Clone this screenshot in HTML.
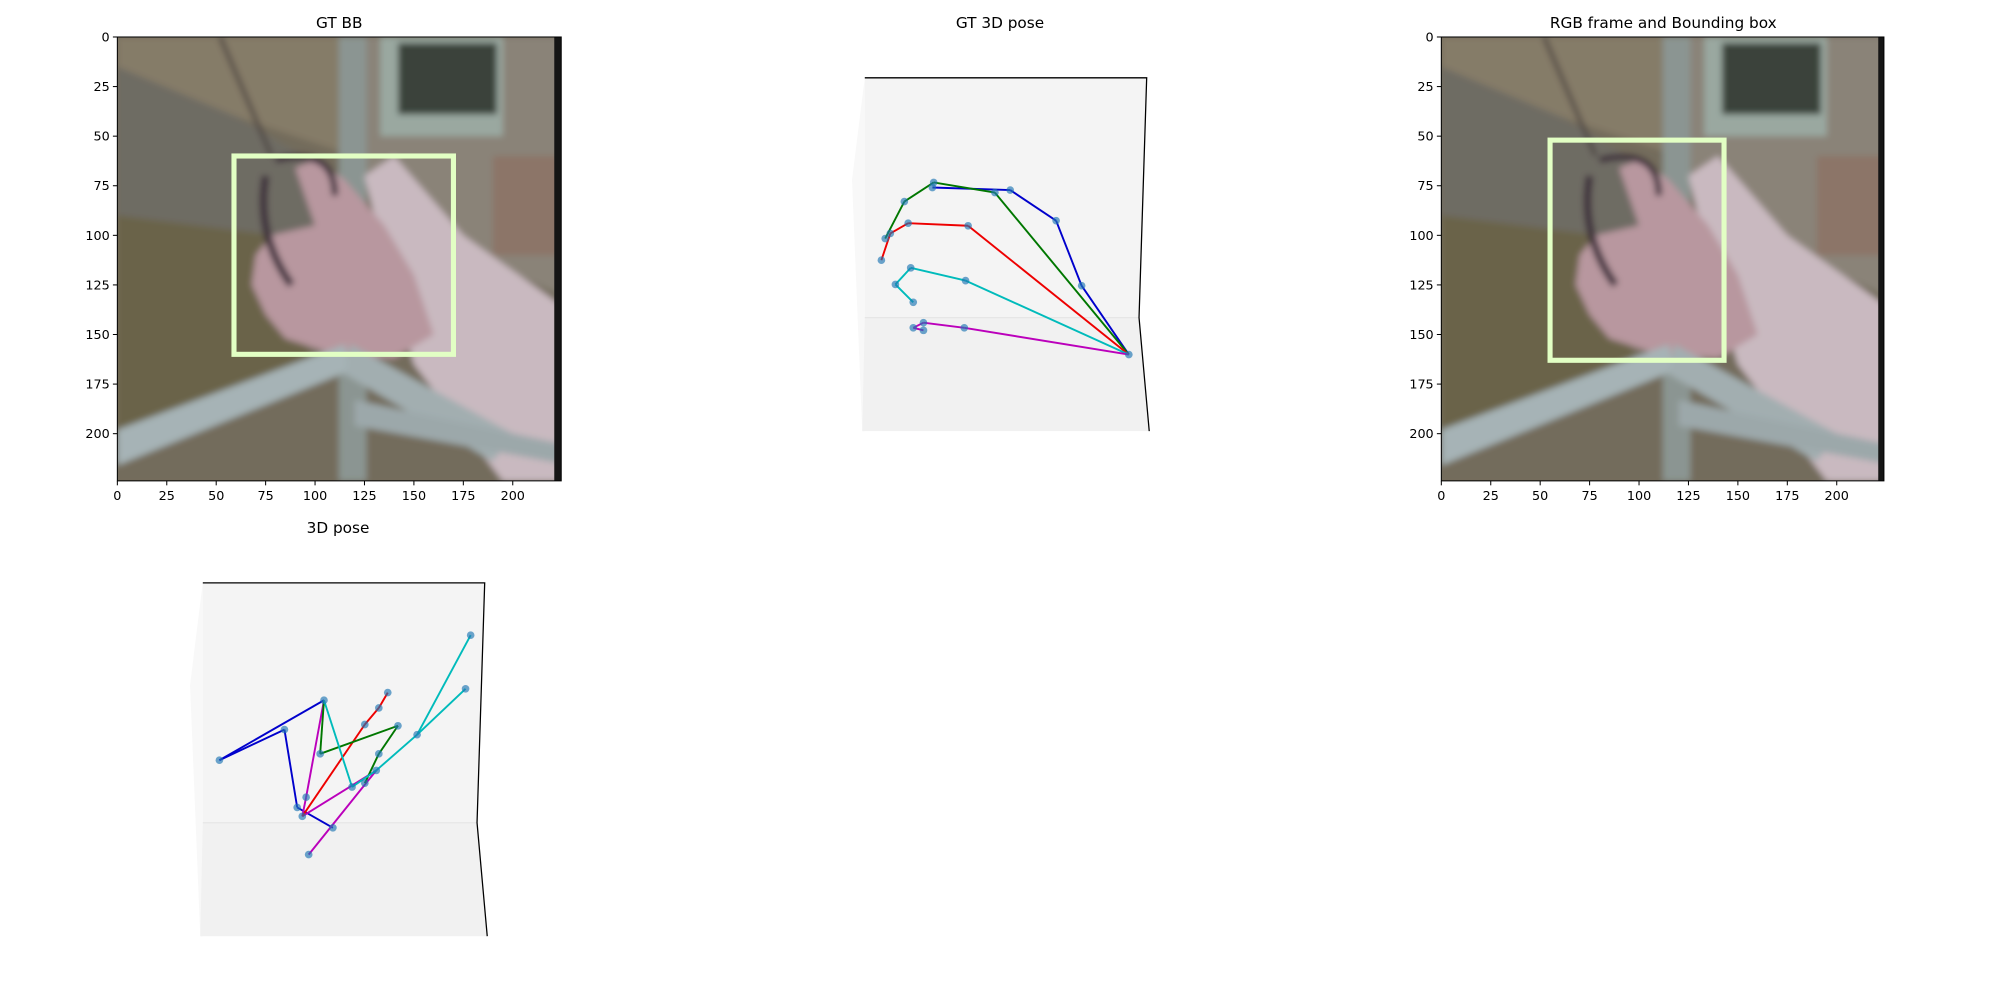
<!DOCTYPE html>
<html><head><meta charset="utf-8"><style>
html,body{margin:0;padding:0;background:#fff;}
svg{display:block;font-family:"DejaVu Sans","Liberation Sans",sans-serif;}
</style></head><body>
<svg id="fig" width="2000" height="1000" viewBox="0 0 1568 784" xmlns="http://www.w3.org/2000/svg">
<rect width="1568" height="784" fill="#fff"/>
<defs>
<clipPath id="c1"><rect x="92" y="29" width="348" height="348"/></clipPath>
<clipPath id="c3"><rect x="1130" y="29" width="347" height="348"/></clipPath>
<filter id="blur" x="-5%" y="-5%" width="110%" height="110%"><feGaussianBlur stdDeviation="2.5"/></filter>
</defs>
<g id="p1"></g>
<g id="p2"></g>
<g id="p3"></g>
<g id="p4"></g>
</svg>
<script>
// ---- data ----
const imageTicks = [0, 25, 50, 75, 100, 125, 150, 175, 200];
const gtBox = [59, 60, 170, 160];      // x0,y0,x1,y1 in image pixels
const predBox = [55, 52, 143, 163];
const gtWrist = [207, 217];
const gtBlue = [[170,163],[150,112],[114,88],[53,86]];
const gtGreen = [[102,90],[54,82],[31,97],[16,126]];
const gtRed = [[81,116],[34,114],[20,122],[13,143]];
const gtCyan = [[79,159],[36,149],[24,162],[38,176]];
const gtMagenta = [[78,196],[46,192],[38,196],[46,198]];
const predJoints = {A:[13,139],B:[64,115],C:[95,92],D:[74,176],E:[78,183],F:[102,192],G:[83,213],H:[81,168],I:[92,134],J:[153,112],K:[127,111],L:[138,98],M:[145,86],N:[117,160],O:[127,157],P:[136,147],Q:[138,134],R:[168,119],S:[206,83],T:[210,41]};
const predBlue = [["A","C"],["A","B"],["B","D"],["D","F"]];
const predMagenta = [["C","H"],["H","E"],["E","P"],["P","G"]];
const predRed = [["E","K"],["K","L"],["L","M"]];
const predGreen = [["C","I"],["I","J"],["J","Q"],["Q","O"]];
const predCyan = [["C","N"],["N","P"],["P","R"],["R","S"],["R","T"]];

const NS="http://www.w3.org/2000/svg";
function mk(parent, tag, attrs){const e=document.createElementNS(NS,tag);for(const k in attrs)e.setAttribute(k,attrs[k]);parent.appendChild(e);return e;}

function imagePanel(g, x0, clip, title, box){
  const sx=v=>x0+v*1.55, sy=v=>29+v*1.555;
  const t=mk(g,'text',{x:x0+174,y:22,'text-anchor':'middle','font-size':12,fill:'#000'});t.textContent=title;
  
  
  const outer=mk(g,'g',{'clip-path':'url(#'+clip+')'});
  mk(outer,'rect',{x:sx(0),y:sy(0),width:348,height:348,fill:'#736c5c'});
  const ph=mk(outer,'g',{filter:'url(#blur)'});
  
  
  const P=(pts)=>pts.map(p=>sx(p[0])+','+sy(p[1])).join(' ');
  mk(ph,'rect',{x:sx(-5),y:sy(-5),width:360,height:360,fill:'#736c5c'});
  mk(ph,'polygon',{points:P([[0,0],[120,0],[120,60],[60,40],[0,20]]),fill:'#857b68'});
  mk(ph,'polygon',{points:P([[0,15],[60,40],[120,75],[90,110],[0,100]]),fill:'#6e6c64'});
  mk(ph,'polygon',{points:P([[0,90],[80,100],[100,170],[0,205]]),fill:'#6b6449'});
  mk(ph,'polygon',{points:P([[120,0],[224,0],[224,130],[160,100],[120,70]]),fill:'#8a8378'});
  mk(ph,'rect',{x:sx(133),y:sy(0),width:62*1.55,height:50*1.555,fill:'#9aa8a0'});
  mk(ph,'rect',{x:sx(142),y:sy(3),width:50*1.55,height:36*1.555,fill:'#3b423a'});
  mk(ph,'rect',{x:sx(112),y:sy(0),width:14*1.55,height:224*1.555,fill:'#8b9592'});
  mk(ph,'rect',{x:sx(190),y:sy(60),width:34*1.55,height:50*1.555,fill:'#8c7468'});
  mk(ph,'line',{x1:sx(52),y1:sy(0),x2:sx(78),y2:sy(60),stroke:'#4a4040','stroke-width':3});
  mk(ph,'polygon',{points:P([[125,70],[140,60],[175,100],[224,135],[224,224],[195,224],[150,165],[140,130]]),fill:'#c9b9c0'});
  mk(ph,'polygon',{points:P([[78,100],[70,110],[68,125],[75,140],[85,152],[110,160],[140,162],[160,150],[150,120],[135,95],[115,72],[100,62],[90,66],[100,95]]),fill:'#b8979f'});
  mk(ph,'path',{d:`M${sx(75)},${sy(70)} Q${sx(70)},${sy(100)} ${sx(88)},${sy(125)}`,fill:'none',stroke:'#3e2f3a','stroke-width':6});
  mk(ph,'path',{d:`M${sx(80)},${sy(62)} Q${sx(110)},${sy(55)} ${sx(110)},${sy(80)}`,fill:'none',stroke:'#3e2f3a','stroke-width':5});
  mk(ph,'polygon',{points:P([[0,198],[115,155],[118,168],[0,216]]),fill:'#a6b3b6'});
  mk(ph,'polygon',{points:P([[118,155],[200,200],[190,214],[115,170]]),fill:'#a2aeb0'});
  mk(ph,'polygon',{points:P([[120,183],[224,205],[224,215],[120,196]]),fill:'#9ca8aa'});
  mk(outer,'rect',{x:sx(221),y:sy(0),width:6,height:348,fill:'#151515'});
  const b=mk(g,'rect',{x:sx(box[0]),y:sy(box[1]),width:(box[2]-box[0])*1.55,height:(box[3]-box[1])*1.555,fill:'none',stroke:'#e2ffc4','stroke-width':4});
  
  
  mk(g,'rect',{x:x0,y:29,width:clip==='c1'?348:347,height:348,fill:'none',stroke:'#000','stroke-width':0.8});
  imageTicks.forEach(v=>{
    mk(g,'line',{x1:sx(v),y1:377,x2:sx(v),y2:380.5,stroke:'#000','stroke-width':0.8});
    const tx=mk(g,'text',{x:sx(v),y:392,'text-anchor':'middle','font-size':10,fill:'#000'});tx.textContent=v;
    
    
    mk(g,'line',{x1:x0-3.5,y1:sy(v),x2:x0,y2:sy(v),stroke:'#000','stroke-width':0.8});
    const ty=mk(g,'text',{x:x0-6,y:sy(v)+3.5,'text-anchor':'end','font-size':10,fill:'#000'});ty.textContent=v;
    
    
  });
}

function pane(g, L, T, title, titleY){
  const t=mk(g,'text',{x:L+106,y:titleY,'text-anchor':'middle','font-size':12,fill:'#000'});t.textContent=title;
  
  
  mk(g,'polygon',{points:`${L-10},${T+80} ${L},${T} ${L},${T+277} ${L-2},${T+277}`,fill:'#f8f8f8'});
  mk(g,'polygon',{points:`${L},${T} ${L+221},${T} ${L+215},${T+188} ${L},${T+188}`,fill:'#f4f4f4'});
  mk(g,'polygon',{points:`${L},${T+188} ${L+215},${T+188} ${L+223},${T+277} ${L-2},${T+277}`,fill:'#f1f1f1'});
  mk(g,'line',{x1:L,y1:T+188,x2:L+215,y2:T+188,stroke:'#e6e6e6','stroke-width':1});
  mk(g,'polyline',{points:`${L},${T} ${L+221},${T} ${L+215},${T+188} ${L+223},${T+277}`,fill:'none',stroke:'#000','stroke-width':1});
}

function seg(g,a,b,col,sx,sy,name){
  const l=mk(g,'line',{x1:sx(a[0]),y1:sy(a[1]),x2:sx(b[0]),y2:sy(b[1]),stroke:col,'stroke-width':1.5});
  
  
}
function dot(g,p,sx,sy){
  const c=mk(g,'circle',{cx:sx(p[0]),cy:sy(p[1]),r:3,fill:'#1f77b4','fill-opacity':0.65});
  
  
}

imagePanel(document.getElementById('p1'),92,'c1','GT BB',gtBox);
imagePanel(document.getElementById('p3'),1130,'c3','RGB frame and Bounding box',predBox);

(function(){
  const g=document.getElementById('p2');const L=678,T=61;
  pane(g,L,T,'GT 3D pose',22);
  const sx=v=>L+v, sy=v=>T+v;
  [[gtBlue,'#0000cc','blue-finger'],[gtGreen,'#007700','green-finger'],[gtRed,'#ee0000','red-finger'],[gtCyan,'#00bbbb','cyan-finger'],[gtMagenta,'#bb00bb','magenta-finger']].forEach(([arr,col,n])=>{
    let prev=gtWrist; arr.forEach(p=>{seg(g,prev,p,col,sx,sy,n);prev=p;});
  });
  dot(g,gtWrist,sx,sy);
  [gtBlue,gtGreen,gtRed,gtCyan,gtMagenta].forEach(a=>a.forEach(p=>dot(g,p,sx,sy)));
})();

(function(){
  const g=document.getElementById('p4');const L=159,T=457;
  pane(g,L,T,'3D pose',418);
  const sx=v=>L+v, sy=v=>T+v;
  [[predBlue,'#0000cc','blue-finger'],[predMagenta,'#bb00bb','magenta-finger'],[predRed,'#ee0000','red-finger'],[predGreen,'#007700','green-finger'],[predCyan,'#00bbbb','cyan-finger']].forEach(([arr,col,n])=>{
    arr.forEach(e=>seg(g,predJoints[e[0]],predJoints[e[1]],col,sx,sy,n));
  });
  Object.values(predJoints).forEach(p=>dot(g,p,sx,sy));
})();
</script>
</body></html>
